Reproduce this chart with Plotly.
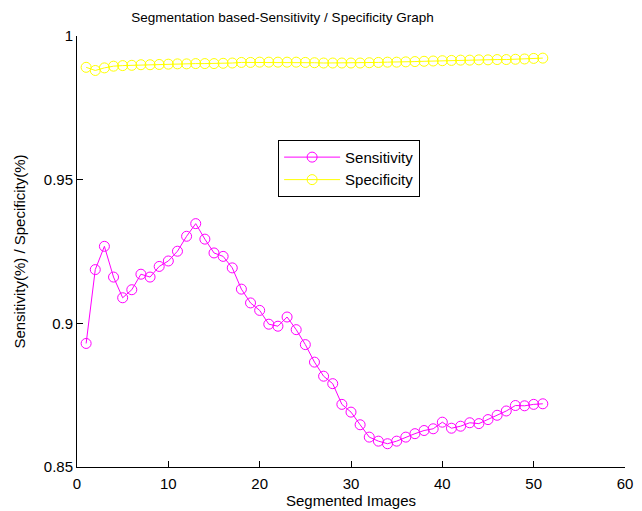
import plotly.graph_objects as go

images = list(range(1, 52))

sensitivity = [
    0.8930, 0.9187, 0.9268, 0.9161, 0.9089, 0.9117, 0.9171, 0.9161, 0.9198, 0.9217,
    0.9251, 0.9303, 0.9347, 0.9293, 0.9245, 0.9233, 0.9193, 0.9119, 0.9071, 0.9045,
    0.8997, 0.8990, 0.9022, 0.8978, 0.8926, 0.8865, 0.8816, 0.8790, 0.8718, 0.8691,
    0.8647, 0.8604, 0.8590, 0.8581, 0.8590, 0.8604, 0.8616, 0.8627, 0.8633, 0.8656,
    0.8635, 0.8642, 0.8654, 0.8651, 0.8665, 0.8680, 0.8695, 0.8714, 0.8713, 0.8718,
    0.8720,
]

specificity = [
    0.9891, 0.9880, 0.9889, 0.9895, 0.9897, 0.9898, 0.9900, 0.9900, 0.9901, 0.9902,
    0.9903, 0.9903, 0.9904, 0.9904, 0.9904, 0.9905, 0.9906, 0.9908, 0.9908, 0.9909,
    0.9909, 0.9909, 0.9909, 0.9909, 0.9908, 0.9907, 0.9906, 0.9906, 0.9906, 0.9906,
    0.9906, 0.9907, 0.9908, 0.9909, 0.9909, 0.9910, 0.9911, 0.9912, 0.9913, 0.9914,
    0.9915, 0.9916, 0.9916, 0.9917, 0.9917, 0.9918, 0.9918, 0.9919, 0.9920, 0.9922,
    0.9923,
]

font_family = "Liberation Sans, Arial, sans-serif"

fig = go.Figure()
fig.add_trace(go.Scatter(
    x=images, y=sensitivity, name="Sensitivity", mode="lines+markers",
    line=dict(color="#FF00FF", width=1),
    marker=dict(symbol="circle-open", size=10, color="#FF00FF", line=dict(width=1)),
))
fig.add_trace(go.Scatter(
    x=images, y=specificity, name="Specificity", mode="lines+markers",
    line=dict(color="#FFFF00", width=1),
    marker=dict(symbol="circle-open", size=10, color="#FFFF00", line=dict(width=1)),
))

fig.update_layout(
    width=642, height=511,
    margin=dict(l=77, r=17, t=36, b=44),
    paper_bgcolor="white", plot_bgcolor="white",
    font=dict(family=font_family, size=15, color="black"),
    title=dict(text="Segmentation based-Sensitivity / Specificity Graph",
               x=0.44, xanchor="center", y=0.967, yanchor="middle",
               font=dict(size=13.5, color="black")),
    showlegend=True,
    legend=dict(x=0.367, y=0.759, xanchor="left", yanchor="top",
                bordercolor="black", borderwidth=1, bgcolor="white",
                font=dict(size=15), itemwidth=56,
                tracegroupgap=0),
    xaxis=dict(range=[0, 60], dtick=10, tick0=0, showgrid=False, zeroline=False,
               showline=True, linecolor="black", linewidth=1,
               ticks="inside", ticklen=6, tickcolor="black",
               ticklabelstandoff=3, automargin=False,
               title=dict(text="Segmented Images", standoff=0, font=dict(size=15))),
    yaxis=dict(range=[0.85, 1.0], dtick=0.05, tick0=0.85, showgrid=False, zeroline=False,
               showline=True, linecolor="black", linewidth=1,
               ticks="inside", ticklen=6, tickcolor="black", automargin=False,
               title=dict(text="Sensitivity(%) / Specificity(%)", standoff=14, font=dict(size=15))),
)

fig.write_html("out.html")
